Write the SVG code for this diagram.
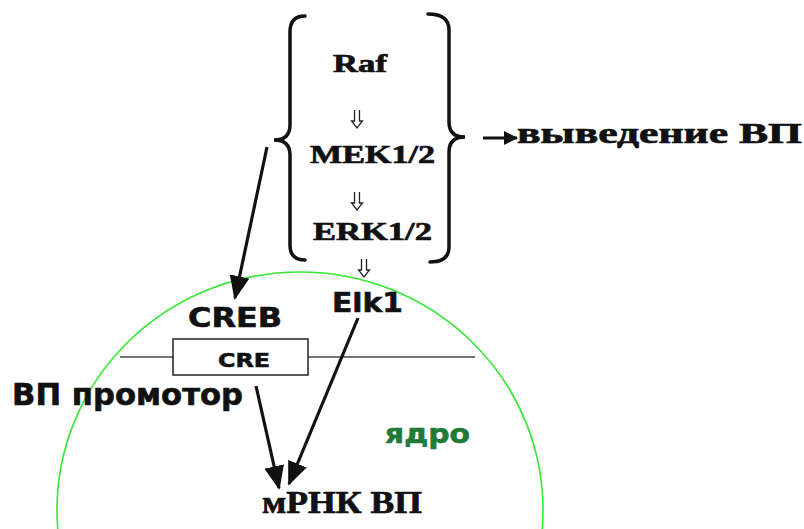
<svg xmlns="http://www.w3.org/2000/svg" width="804" height="529" viewBox="0 0 804 529">
<style>
.serif{font-family:"Liberation Serif","Times New Roman",serif;font-weight:bold;fill:#111;stroke:#111;stroke-width:0.7}
.sans{font-family:"DejaVu Sans",Verdana,sans-serif;font-weight:bold;fill:#111;stroke:#111;stroke-width:0.6}
.brace{fill:none;stroke:#111;stroke-width:3.5;stroke-linecap:round}
.conn{stroke:#111;stroke-width:3.2;fill:none}
.dbl{fill:#fff;stroke:#222;stroke-width:1.3;stroke-linejoin:miter}
</style>
<defs>
<marker id="ah" markerUnits="userSpaceOnUse" markerWidth="24" markerHeight="20" refX="22" refY="10" orient="auto">
<path d="M0,0 L24,10 L0,20 Z" fill="#111"/>
</marker>
<marker id="ahs" markerUnits="userSpaceOnUse" markerWidth="14" markerHeight="14" refX="13" refY="7" orient="auto">
<path d="M0,0 L14,7 L0,14 Z" fill="#111"/>
</marker>
<path id="dbl" class="dbl" d="M-2.5,0 L-2.5,11 L-5.5,11 L0,18 L5.5,11 L2.5,11 L2.5,0"/>
</defs>
<rect width="804" height="529" fill="#fff"/>
<g id="nucleus">
<ellipse cx="300" cy="510" rx="243" ry="238" fill="none" stroke="#33e833" stroke-width="1.6"/>
<text class="sans" x="385" y="443" font-size="27" textLength="85" lengthAdjust="spacingAndGlyphs" style="fill:#1f7a35;stroke:#1f7a35">ядро</text>
</g>
<g id="cascade">
<path class="brace" d="M305,16 Q290,16 290,32 L290,125 Q290,140 274,140 Q290,140 290,155 L290,245 Q290,260 305,260"/>
<path class="brace" d="M428,14 Q449,14 449,30 L449,122 Q449,137 465,137 Q449,137 449,152 L449,247 Q449,262 430,262"/>
<text class="serif" x="333" y="72" font-size="26" textLength="54" lengthAdjust="spacingAndGlyphs">Raf</text>
<text class="serif" x="310" y="163" font-size="26" textLength="125" lengthAdjust="spacingAndGlyphs">MEK1/2</text>
<text class="serif" x="313" y="240" font-size="26" textLength="119" lengthAdjust="spacingAndGlyphs">ERK1/2</text>
</g>
<g id="excretion">
<text class="serif" x="517" y="143" font-size="29" textLength="285" lengthAdjust="spacingAndGlyphs">выведение ВП</text>
</g>
<g id="creb">
<text class="sans" x="188" y="327" font-size="26" textLength="94" lengthAdjust="spacingAndGlyphs">CREB</text>
</g>
<g id="elk1">
<text class="sans" x="332" y="312" font-size="27" textLength="71" lengthAdjust="spacingAndGlyphs">Elk1</text>
</g>
<g id="promoter">
<line x1="120" y1="357" x2="475" y2="357" stroke="#777" stroke-width="2"/>
<rect x="173" y="339" width="135" height="36" fill="#fff" stroke="#222" stroke-width="1.5"/>
<text class="sans" x="218" y="367" font-size="20" textLength="52" lengthAdjust="spacingAndGlyphs">CRE</text>
<text class="sans" x="12" y="405" font-size="30" textLength="231" lengthAdjust="spacingAndGlyphs">ВП промотор</text>
</g>
<g id="mrna">
<text class="serif" x="262" y="513" font-size="32" textLength="160" lengthAdjust="spacingAndGlyphs">мРНК ВП</text>
</g>
<g id="connectors">
<use href="#dbl" x="357" y="110"/>
<use href="#dbl" x="357" y="192"/>
<use href="#dbl" x="364" y="259"/>
<line class="conn" x1="267" y1="147" x2="235" y2="298" marker-end="url(#ah)"/>
<line class="conn" x1="256" y1="386" x2="279" y2="488" marker-end="url(#ah)"/>
<line class="conn" x1="358" y1="318" x2="289" y2="484" marker-end="url(#ah)"/>
<line class="conn" x1="483" y1="138" x2="517" y2="138" stroke-width="4" marker-end="url(#ahs)"/>
</g>
</svg>
